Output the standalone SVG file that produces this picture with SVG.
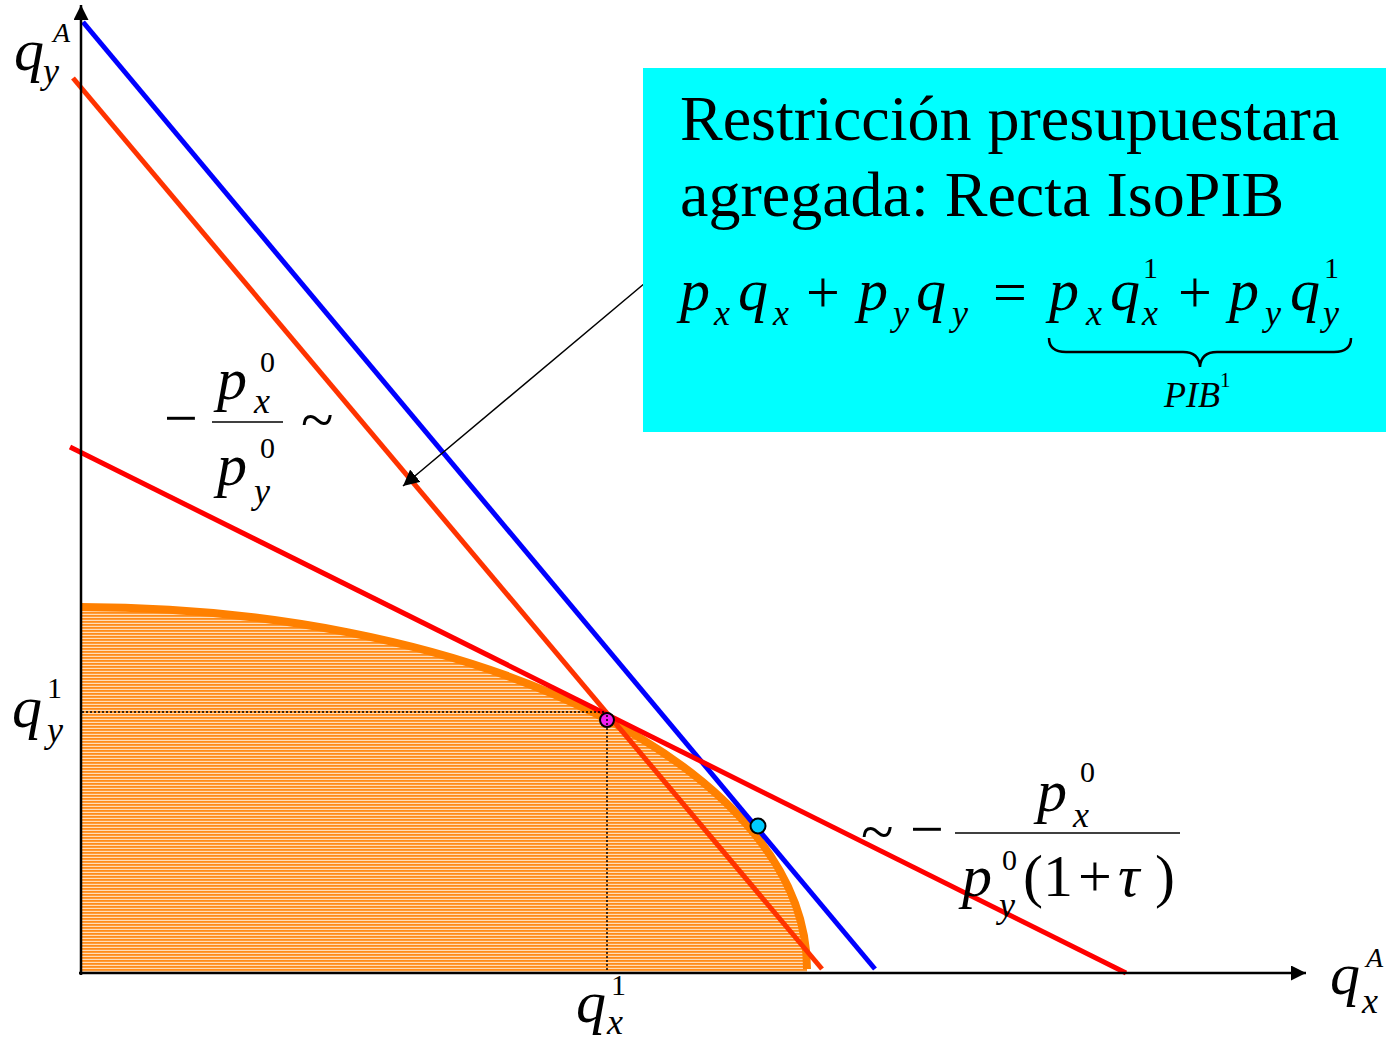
<svg xmlns="http://www.w3.org/2000/svg" width="1388" height="1042" viewBox="0 0 1388 1042">
<style>
text{font-family:"Liberation Serif","Times New Roman",serif;fill:#000}
.mi{font-family:"Liberation Serif","Times New Roman",serif;font-style:italic;font-size:60px}
.sb{font-family:"Liberation Serif","Times New Roman",serif;font-style:italic;font-size:36px}
.sp{font-size:30px}
.sa{font-family:"Liberation Serif","Times New Roman",serif;font-style:italic;font-size:28px}
.up{font-size:60px}
.title{font-size:64px}
.ln{fill:none;stroke-width:5}
.dot{fill:none;stroke:#000;stroke-width:1.5;stroke-dasharray:2 2}
.ax{stroke:#000;stroke-width:2.5;fill:none}
.bar{stroke:#000;stroke-width:1.5}
</style>
<defs>
<pattern id="hatch" patternUnits="userSpaceOnUse" width="12" height="3">
<rect width="12" height="3" fill="#FFDDB8"/>
<rect width="12" height="1.8" fill="#FF8C1A"/>
</pattern>
<marker id="ah" viewBox="0 0 10 10" refX="10" refY="5" markerWidth="16" markerHeight="16" markerUnits="userSpaceOnUse" orient="auto">
<path d="M0,0 L10,5 L0,10 Z" fill="#000"/>
</marker>
<marker id="axh" viewBox="0 0 10 10" refX="10" refY="5" markerWidth="15" markerHeight="15" markerUnits="userSpaceOnUse" orient="auto">
<path d="M0,0 L10,5 L0,10 Z" fill="#000"/>
</marker>
</defs>
<rect width="1388" height="1042" fill="#fff"/>

<g id="production-set">
<path d="M81,973 L81,607 A726,362 0 0 1 807,969 L807,973 Z" fill="url(#hatch)"/>
<path d="M81,607 A726,362 0 0 1 807,969" fill="none" stroke="#FF8000" stroke-width="8"/>
</g>

<g id="lines">
<line class="ln" x1="73" y1="78" x2="822" y2="969" stroke="#FF3300"/>
<line class="ln" x1="83" y1="22" x2="875" y2="969" stroke="#0000FF"/>
<line class="ln" x1="70" y1="447" x2="1126" y2="973" stroke="#FF0000"/>
</g>

<g id="connectors">
<line class="ax" x1="81" y1="975" x2="81" y2="5" marker-end="url(#axh)"/>
<line class="ax" x1="79" y1="973" x2="1306" y2="973" marker-end="url(#axh)"/>
<line x1="645" y1="283" x2="403" y2="486" stroke="#000" stroke-width="1.5" marker-end="url(#ah)"/>
<line class="dot" x1="82" y1="712" x2="604" y2="712"/>
<line class="dot" x1="607" y1="712" x2="607" y2="972"/>
</g>

<g id="points">
<circle cx="607" cy="720" r="7" fill="#F020F0" stroke="#000" stroke-width="2"/>
<line x1="607" y1="715" x2="607" y2="726" class="dot"/>
<circle cx="758" cy="826" r="7.5" fill="#00CCFF" stroke="#000" stroke-width="2"/>
</g>

<g id="box">
<rect x="643" y="68" width="743" height="364" fill="#00FFFF"/>
<text class="title" x="680" y="140">Restricción presupuestara</text>
<text class="title" x="680" y="216">agregada: Recta IsoPIB</text>
<text class="mi" x="680" y="310">p</text><text class="sb" x="714" y="325">x</text>
<text class="mi" x="738" y="310">q</text><text class="sb" x="773" y="325">x</text>
<text class="up" x="806" y="312">+</text>
<text class="mi" x="858" y="310">p</text><text class="sb" x="893" y="325">y</text>
<text class="mi" x="916" y="310">q</text><text class="sb" x="952" y="325">y</text>
<text class="up" x="993" y="312">=</text>
<text class="mi" x="1049" y="310">p</text><text class="sb" x="1086" y="325">x</text>
<text class="mi" x="1110" y="310">q</text><text class="sb" x="1142" y="325">x</text><text class="sp" x="1143" y="278">1</text>
<text class="up" x="1178" y="312">+</text>
<text class="mi" x="1229" y="310">p</text><text class="sb" x="1265" y="325">y</text>
<text class="mi" x="1290" y="310">q</text><text class="sb" x="1323" y="325">y</text><text class="sp" x="1324" y="278">1</text>
<path d="M1049,338 Q1049,352 1066,352 L1183,352 Q1199,352 1200,367 Q1201,352 1217,352 L1334,352 Q1351,352 1351,338" fill="none" stroke="#000" stroke-width="2.5"/>
<text class="sb" x="1164" y="407">PIB</text><text x="1220" y="387" style="font-size:21px">1</text>
</g>

<g id="slope-left">
<text class="up" x="164" y="438">−</text>
<text class="mi" x="217" y="399">p</text><text class="sb" x="254" y="413">x</text><text class="sp" x="260" y="372">0</text>
<line class="bar" x1="212" y1="422" x2="283" y2="422"/>
<text class="mi" x="217" y="485">p</text><text class="sb" x="254" y="503">y</text><text class="sp" x="260" y="458">0</text>
<text class="up" x="301" y="440">~</text>
</g>

<g id="slope-right">
<text class="up" x="861" y="852">~</text>
<text class="up" x="910" y="849">−</text>
<text class="mi" x="1037" y="811">p</text><text class="sb" x="1073" y="827">x</text><text class="sp" x="1080" y="782">0</text>
<line class="bar" x1="955" y1="833" x2="1180" y2="833"/>
<text class="mi" x="962" y="896">p</text><text class="sb" x="999" y="917">y</text><text class="sp" x="1002" y="870">0</text>
<text class="up" x="1023" y="896">(</text>
<text class="up" x="1043" y="896">1</text>
<text class="up" x="1078" y="896">+</text>
<text class="mi" x="1118" y="896">τ</text>
<text class="up" x="1155" y="896">)</text>
</g>

<g id="axis-labels">
<text class="mi" x="14" y="70">q</text><text class="sb" x="43" y="83">y</text><text class="sa" x="53" y="42">A</text>
<text class="mi" x="12" y="727">q</text><text class="sb" x="47" y="742">y</text><text class="sp" x="47" y="698">1</text>
<text class="mi" x="576" y="1022">q</text><text class="sb" x="607" y="1034">x</text><text class="sp" x="611" y="995">1</text>
<text class="mi" x="1330" y="994">q</text><text class="sb" x="1362" y="1013">x</text><text class="sa" x="1366" y="967">A</text>
</g>
</svg>
